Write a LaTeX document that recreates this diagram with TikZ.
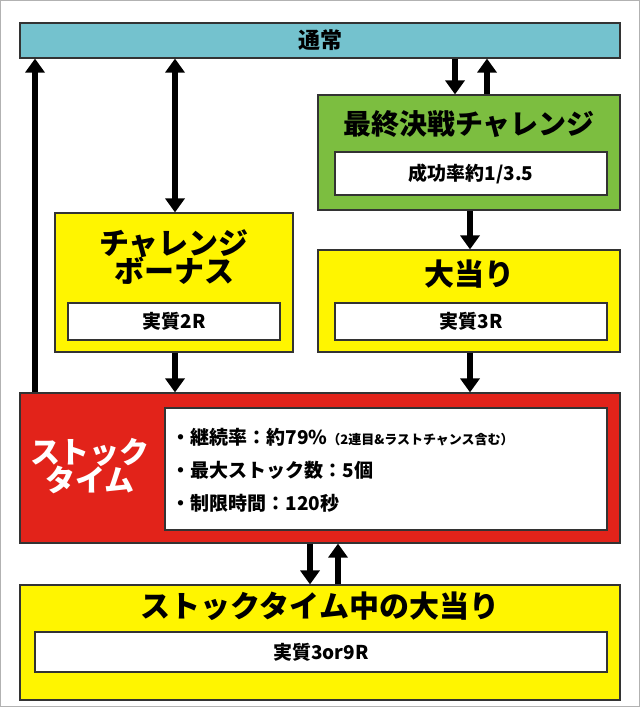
\documentclass[tikz,border=0pt]{standalone}
\usepackage{fontspec}
\setmainfont{Noto Sans CJK JP}
\usetikzlibrary{arrows.meta,positioning}
\definecolor{tsujo}{RGB}{116,194,206}
\definecolor{chgreen}{RGB}{124,190,64}
\definecolor{boxyellow}{RGB}{255,245,0}
\definecolor{stockred}{RGB}{226,35,26}
\begin{document}
\begin{tikzpicture}[x=1pt,y=-1pt]

\tikzset{
  panel/.style={draw=black!80,line width=1.2pt,inner sep=0pt},
  inner/.style={draw=black!80,fill=white,line width=1.2pt,inner sep=0pt,font=\bfseries\fontsize{19}{19}\selectfont},
  title/.style={font=\bfseries\fontsize{30}{32}\selectfont,align=center},
  flow/.style={line width=6pt,-{Triangle[length=14pt,width=19pt]}}
}
\useasboundingbox (0,0) rectangle (640,707);
\draw[black!30] (0.5,0.5) rectangle (639.5,706.5);

% =========================
% top bar
% =========================
\node[panel,fill=tsujo,minimum width=600,minimum height=35] (tsujo) at (320,40.5) {};
\node[font=\bfseries\fontsize{22}{22}\selectfont] at (tsujo) {通常};

% =========================
% green challenge box
% =========================
\node[panel,fill=chgreen,minimum width=302,minimum height=115] (green) at (469,152.5) {};
\node[title,font=\bfseries\fontsize{28}{28}\selectfont] at (469,124) {最終決戦チャレンジ};
\node[inner,minimum width=272,minimum height=43] (gin) at (471,173.5) {成功率約1/3.5};

% =========================
% yellow boxes
% =========================
\node[panel,fill=boxyellow,minimum width=238,minimum height=139] (cb) at (174,282.5) {};
\node[title] at (174,257) {チャレンジ\\[-4pt]ボーナス};
\node[inner,minimum width=212,minimum height=37] (cbin) at (174,321.5) {実質2R};

\node[panel,fill=boxyellow,minimum width=302,minimum height=102] (oa) at (469,301) {};
\node[title] at (469,274) {大当り};
\node[inner,minimum width=272,minimum height=37] (oain) at (471,321.5) {実質3R};

% =========================
% stock time
% =========================
\node[panel,fill=stockred,minimum width=600,minimum height=150] (st) at (320,468) {};
\node[title,text=white] at (90,466) {ストック\\[-4pt]タイム};
\node[inner,minimum width=442,minimum height=122] (stin) at (386,469) {};
\node[anchor=west,align=left,font=\bfseries\fontsize{19}{33}\selectfont] at (168,470)
  {・継続率：約79\%{\fontsize{13}{13}\selectfont（2連目\&ラストチャンス含む）}\\
   ・最大ストック数：5個\\
   ・制限時間：120秒};

% =========================
% bottom box
% =========================
\node[panel,fill=boxyellow,minimum width=600,minimum height=115] (sb) at (320,642.5) {};
\node[title] at (320,606) {ストックタイム中の大当り};
\node[inner,minimum width=572,minimum height=40] (sbin) at (321,652) {実質3or9R};

% =========================
% arrows
% =========================
\draw[flow] (st.north -| 35,0) -- (tsujo.south -| 35,0);
\draw[flow,{Triangle[length=14pt,width=19pt]}-{Triangle[length=14pt,width=19pt]}] (tsujo.south -| 175,0) -- (cb.north -| 175,0);
\draw[flow] (tsujo.south -| 455,0) -- (green.north -| 455,0);
\draw[flow] (green.north -| 487,0) -- (tsujo.south -| 487,0);
\draw[flow] (green.south -| 470,0) -- (oa.north -| 470,0);
\draw[flow] (cb.south -| 175,0) -- (st.north -| 175,0);
\draw[flow] (oa.south -| 470,0) -- (st.north -| 470,0);
\draw[flow] (st.south -| 310,0) -- (sb.north -| 310,0);
\draw[flow] (sb.north -| 338,0) -- (st.south -| 338,0);

\end{tikzpicture}
\end{document}
